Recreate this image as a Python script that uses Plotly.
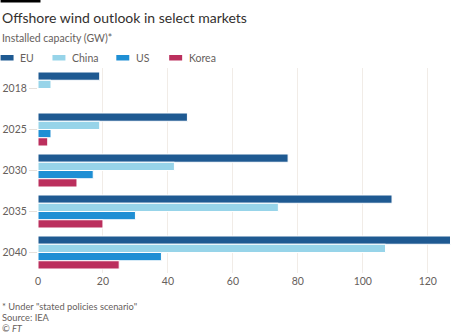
import plotly.graph_objects as go

# Installed offshore wind capacity (GW), stated policies scenario
years = ["2018", "2025", "2030", "2035", "2040"]
series_names = ["EU", "China", "US", "Korea"]
eu = [19, 46, 77, 109, 127]
china = [4, 19, 42, 74, 107]
us = [None, 4, 17, 30, 38]
korea = [None, 3, 12, 20, 25]
x_ticks = [0, 20, 40, 60, 80, 100, 120]

colors = ["#1f5a92", "#97d4e9", "#1f8fd4", "#bb2f5d"]
values = [eu, china, us, korea]

W, H = 468, 334
L, R, T, B = 37.5, 10.5, 68, 61
PW, PH = W - L - R, H - T - B

def px(x):
    return (x - L) / PW

def py(y):
    return (H - B - y) / PH

fig = go.Figure()
for name, vals, col in zip(series_names, values, colors):
    fig.add_trace(go.Bar(
        name=name, y=years, x=vals, orientation="h",
        marker=dict(color=col, line=dict(color="white", width=1)),
        showlegend=False,
    ))

grey = "#66605c"
font = "Lato"

annotations = [
    dict(text="Offshore wind outlook in select markets", x=px(-1), y=py(17),
         font=dict(size=14, color="#33302e", family=font)),
    dict(text="Installed capacity (GW)*", x=px(-1), y=py(38),
         font=dict(size=10.5, color=grey, family=font)),
    dict(text="* Under \"stated policies scenario\"", x=px(-1), y=py(306),
         font=dict(size=9.3, color=grey, family=font)),
    dict(text="Source: IEA", x=px(-1), y=py(317),
         font=dict(size=9.3, color=grey, family=font)),
    dict(text="<i>© FT</i>", x=px(-1), y=py(328),
         font=dict(size=9.3, color=grey, family=font)),
]

# Hand-placed legend swatches and labels
swatch_x = [0, 52, 116, 169]
shapes = [dict(type="rect", xref="paper", yref="paper",
               x0=px(0), x1=px(40), y0=py(0), y1=py(2.5),
               fillcolor="#000000", line=dict(width=0))]
for name, col, sx in zip(series_names, colors, swatch_x):
    shapes.append(dict(type="rect", xref="paper", yref="paper",
                       x0=px(sx), x1=px(sx + 13), y0=py(55), y1=py(60.5),
                       fillcolor=col, line=dict(width=0)))
    annotations.append(dict(text=name, x=px(sx + 17.5), y=py(58),
                            font=dict(size=10.5, color=grey, family=font)))

for a in annotations:
    a.update(xref="paper", yref="paper", xanchor="left", yanchor="middle",
             showarrow=False)

fig.update_layout(
    width=W, height=H,
    margin=dict(l=L, r=R, t=T, b=B, pad=0, autoexpand=False),
    paper_bgcolor="white", plot_bgcolor="white",
    barmode="group", bargap=0.195, bargroupgap=0,
    annotations=annotations, shapes=shapes,
    font=dict(family=font, color=grey),
    xaxis=dict(range=[0, 129], tickvals=x_ticks, showgrid=True,
               gridcolor="#f1ece7", gridwidth=1, zeroline=False,
               showline=False, ticks="", tickfont=dict(size=10.5, color=grey),
               ticklabelstandoff=0, automargin=False),
    yaxis=dict(type="category", categoryorder="array", categoryarray=years,
               autorange="reversed", showgrid=False, zeroline=False,
               showline=False, ticks="outside", ticklen=8,
               tickcolor="#e6e1dc", tickfont=dict(size=10.5, color=grey),
               automargin=False),
)

fig.write_html("out.html")
